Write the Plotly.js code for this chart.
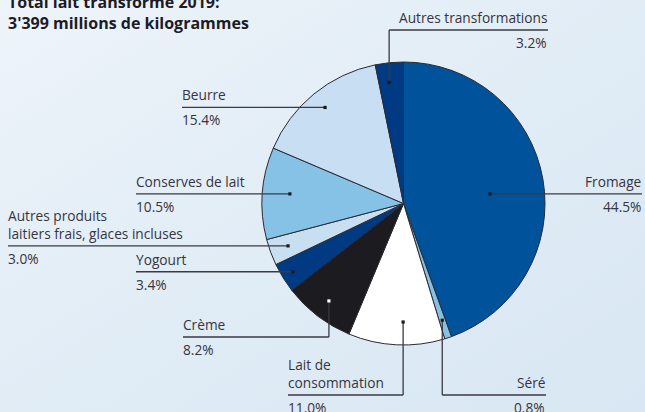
<!DOCTYPE html>
<html>
<head>
<meta charset="utf-8">
<script src="https://cdn.plot.ly/plotly-3.0.1.min.js"></script>
<style>html,body{margin:0;padding:0;background:#e3edf6;}#chart{width:645px;height:412px;}</style>
</head>
<body>
<div id="chart"></div>
<script>
// ---- data ----
const categories = ['Fromage','Séré','Lait de consommation','Crème','Yogourt',
  'Autres produits laitiers frais, glaces incluses','Conserves de lait','Beurre','Autres transformations'];
const values = [44.5, 0.8, 11.0, 8.2, 3.4, 3.0, 10.5, 15.4, 3.2];
const labelTexts = ['Fromage','Séré','Lait de<br>consommation','Crème','Yogourt',
  'Autres produits<br>laitiers frais, glaces incluses','Conserves de lait','Beurre','Autres transformations'];
const colors = ['#00529b','#86c1e4','#ffffff','#1c1b20','#003a82','#c8def1','#86c2e5','#c8def2','#003a82'];
const title1 = 'Total lait transformé 2019:';
const title2 = "3'399 millions de kilogrammes";

// ---- layout config (pixels) ----
const W = 645, H = 412;
const cx = 403.5, cy = 203.5, R = 141.5;
// r: radius of the dot, da: angle tweak (deg), kind: h = straight horizontal, v = elbow
const labelCfg = [
  {r:87,  da:3.6,  kind:'h', x2:642, align:'right'},
  {r:123, da:0,    kind:'v', ly:395, x2:546, align:'right'},
  {r:118.5,da:-2.7,kind:'v', ly:395, x2:288, align:'left'},
  {r:122.7,da:0,   kind:'v', ly:337, x2:183, align:'left', dot:'#ffffff'},
  {r:130, da:0,    kind:'h', x2:136, align:'left'},
  {r:123, da:0,    kind:'h', x2:8,   align:'left'},
  {r:114, da:0.7,  kind:'h', x2:136, align:'left'},
  {r:124, da:0,    kind:'h', x2:182, align:'left'},
  {r:122, da:-1,   kind:'v', ly:30,  x2:548, align:'right'}
];

const px = x => x / W;
const py = y => 1 - y / H;
const FONT = 'Open Sans';
const TXT = '#35353f';
const LINE = '#3a3a42';
const FS = 13.7;

const total = values.reduce((a,b)=>a+b,0);
const shapes = [], annotations = [];
let cum = 0;
values.forEach((v,i) => {
  const mid = (cum + v/2) / total * 360;
  cum += v;
  const c = labelCfg[i];
  const a = (mid + c.da) * Math.PI / 180;
  const dx = cx + c.r * Math.sin(a);
  const dy = cy - c.r * Math.cos(a);
  let ly;
  if (c.kind === 'h') {
    ly = dy;
    shapes.push({type:'line', xref:'paper', yref:'paper', x0:px(dx), x1:px(c.x2), y0:py(ly), y1:py(ly), line:{color:LINE, width:1.3}});
  } else {
    ly = c.ly;
    shapes.push({type:'line', xref:'paper', yref:'paper', x0:px(dx), x1:px(dx), y0:py(dy), y1:py(ly), line:{color:LINE, width:1.3}});
    shapes.push({type:'line', xref:'paper', yref:'paper', x0:px(dx), x1:px(c.x2), y0:py(ly), y1:py(ly), line:{color:LINE, width:1.3}});
  }
  shapes.push({type:'rect', xref:'paper', yref:'paper', x0:px(dx-1.6), x1:px(dx+1.6), y0:py(dy-1.6), y1:py(dy+1.6),
    fillcolor:c.dot || '#1a1a1a', line:{width:0}});
  const xa = c.align === 'right' ? 'right' : 'left';
  const tx = xa === 'left' ? c.x2 - 2 : c.x2 + 1;
  annotations.push({xref:'paper', yref:'paper', x:px(tx), y:py(ly-1), xanchor:xa, yanchor:'bottom',
    text:labelTexts[i], showarrow:false, align:xa, font:{family:FONT, size:FS, color:TXT}});
  annotations.push({xref:'paper', yref:'paper', x:px(tx), y:py(ly+1), xanchor:xa, yanchor:'top',
    text:v.toFixed(1)+'%', showarrow:false, align:xa, font:{family:FONT, size:FS, color:TXT}});
});

annotations.push({xref:'paper', yref:'paper', x:px(6), y:py(12.4), xanchor:'left', yanchor:'middle', align:'left',
  text:'<b>'+title1+'</b><br><b>'+title2+'</b>', showarrow:false, font:{family:FONT, size:16, color:'#1c1c28'}});

const bgSvg = '<svg xmlns="http://www.w3.org/2000/svg" width="645" height="412"><defs><linearGradient id="g" x1="0" y1="0" x2="1" y2="1"><stop offset="0" stop-color="#eef4fa"/><stop offset="0.45" stop-color="#e2edf6"/><stop offset="1" stop-color="#d8e7f3"/></linearGradient></defs><rect width="645" height="412" fill="url(#g)"/></svg>';

const data = [{
  type:'pie', labels:categories, values:values, sort:false, direction:'clockwise', rotation:0,
  marker:{colors:colors, line:{color:'#2a2a35', width:1}},
  textinfo:'none', hoverinfo:'none', showlegend:false,
  domain:{x:[px(cx-R), px(cx+R)], y:[py(cy+R), py(cy-R)]}
}];

const layout = {
  width:W, height:H, margin:{l:0,r:0,t:0,b:0},
  paper_bgcolor:'#e3edf6', plot_bgcolor:'rgba(0,0,0,0)',
  showlegend:false, shapes:shapes, annotations:annotations,
  images:[{source:'data:image/svg+xml;utf8,'+encodeURIComponent(bgSvg), xref:'paper', yref:'paper',
    x:0, y:1, sizex:1, sizey:1, xanchor:'left', yanchor:'top', sizing:'stretch', layer:'below'}]
};

Plotly.newPlot('chart', data, layout, {staticPlot:true, displayModeBar:false});
</script>
</body>
</html>
